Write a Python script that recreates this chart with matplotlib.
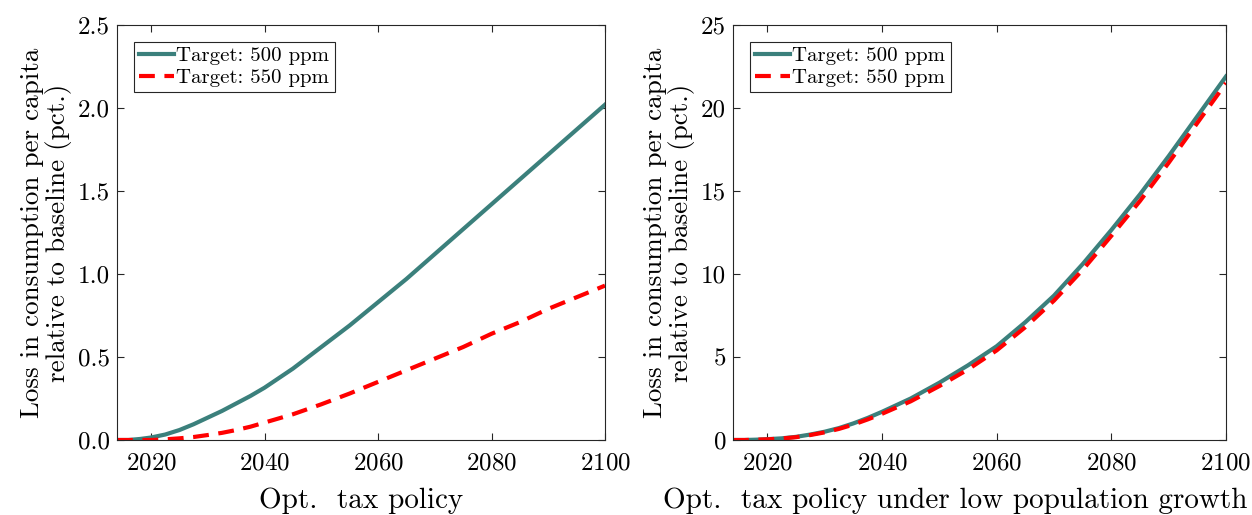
import matplotlib
matplotlib.use("Agg")
import matplotlib.pyplot as plt

plt.rcParams["font.family"] = ["cmr10", "DejaVu Serif"]
plt.rcParams["mathtext.fontset"] = "cm"
plt.rcParams["axes.formatter.use_mathtext"] = True

# data
years = [2014, 2016, 2018, 2020, 2022.5, 2025, 2027.5, 2030, 2032.5, 2035, 2037.5, 2040,
         2045, 2050, 2055, 2060, 2065, 2070, 2075, 2080, 2085, 2090, 2095, 2100]

base_500 = [0.0, 0.0, 0.006, 0.015, 0.033, 0.06, 0.095, 0.135, 0.175, 0.22, 0.265, 0.315,
            0.43, 0.56, 0.69, 0.83, 0.97, 1.12, 1.27, 1.42, 1.57, 1.72, 1.87, 2.02]
base_550 = [0.0, 0.0, 0.0, 0.0, 0.004, 0.01, 0.018, 0.03, 0.043, 0.06, 0.08, 0.105,
            0.155, 0.215, 0.28, 0.35, 0.42, 0.49, 0.56, 0.64, 0.71, 0.79, 0.86, 0.93]

lowpop_500 = [0.0, 0.0, 0.02, 0.05, 0.1, 0.19, 0.33, 0.5, 0.72, 1.0, 1.33, 1.7,
              2.5, 3.45, 4.5, 5.65, 7.1, 8.7, 10.6, 12.65, 14.8, 17.1, 19.5, 21.9]
lowpop_550 = [0.0, 0.0, 0.02, 0.04, 0.09, 0.17, 0.3, 0.46, 0.67, 0.93, 1.24, 1.58,
              2.33, 3.25, 4.25, 5.4, 6.8, 8.4, 10.25, 12.3, 14.4, 16.7, 19.1, 21.5]

labels = ["Target: 500 ppm", "Target: 550 ppm"]
xticks = [2020, 2040, 2060, 2080, 2100]
teal = "#3b807c"

fig = plt.figure(figsize=(12.52, 5.15), dpi=100)
ax1 = fig.add_axes([117 / 1252, 75 / 515, 488 / 1252, 415 / 515])
ax2 = fig.add_axes([733 / 1252, 75 / 515, 493 / 1252, 415 / 515])

panels = [
    (ax1, base_500, base_550, 2.5, [0, 0.5, 1.0, 1.5, 2.0, 2.5], "{:.1f}",
     "Opt.  tax policy", 0.5),
    (ax2, lowpop_500, lowpop_550, 25, [0, 5, 10, 15, 20, 25], "{:.0f}",
     "Opt.  tax policy under low population growth", 0.45),
]

for ax, s1, s2, ymax, yt, fmt, xlab, xlab_pos in panels:
    ax.plot(years, s1, color=teal, lw=3, label=labels[0])
    ax.plot(years, s2, color="red", lw=3, ls=(0, (3.8, 2.3)), label=labels[1])
    ax.set_xlim(2014, 2100)
    ax.set_ylim(0, ymax)
    ax.set_xticks(xticks)
    ax.set_yticks(yt)
    ax.set_yticklabels([fmt.format(v) for v in yt])
    ax.tick_params(direction="in", top=True, right=True, labelsize=18,
                   length=5, width=0.8, color="#262626")
    ax.tick_params(axis="x", pad=9)
    ax.tick_params(axis="y", pad=5)
    for sp in ax.spines.values():
        sp.set_color("#262626")
        sp.set_linewidth(0.8)
    ax.set_ylabel("Loss in consumption per capita\nrelative to baseline (pct.)",
                  fontsize=19.5, linespacing=1.05, labelpad=4)
    ax.set_xlabel(xlab, fontsize=21)
    ax.xaxis.set_label_coords(xlab_pos, -0.115)
    leg = ax.legend(loc="upper left", fontsize=15, handlelength=1.7,
                    handletextpad=0.1, borderpad=0.25, labelspacing=0.15,
                    fancybox=False, framealpha=1, borderaxespad=0.8)
    leg.get_frame().set_edgecolor("#262626")
    leg.get_frame().set_linewidth(0.8)

fig.savefig("out.png", dpi=100)
